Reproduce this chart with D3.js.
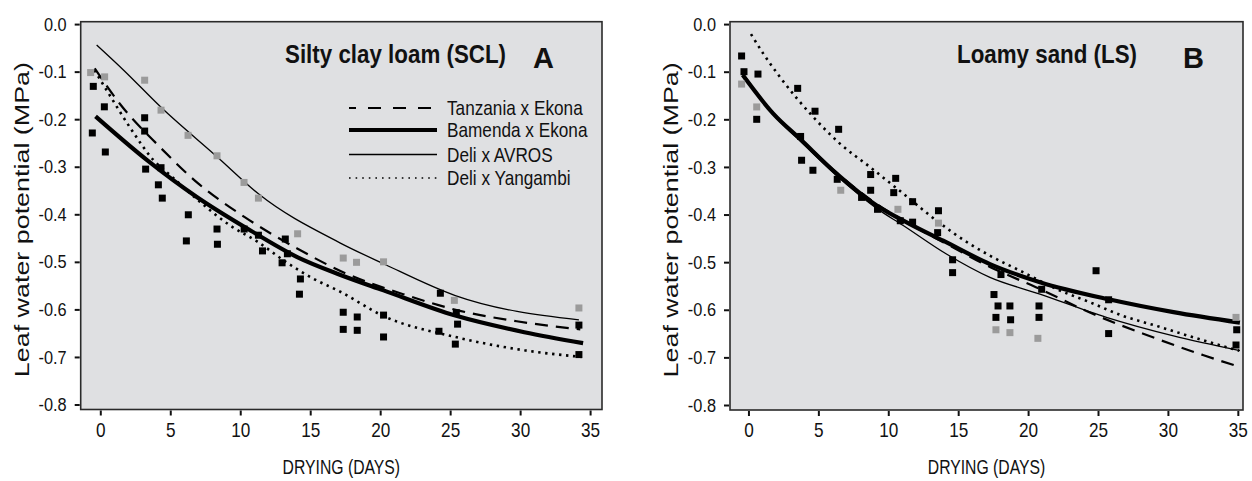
<!DOCTYPE html>
<html>
<head>
<meta charset="utf-8">
<script src="https://cdn.jsdelivr.net/npm/d3@7"></script>
<style>
  html, body { margin: 0; padding: 0; background: #fff; }
  svg { display: block; }
  text { font-family: "Liberation Sans", Arial, Helvetica, sans-serif; fill: #111; }
</style>
</head>
<body>
<svg id="chart" width="1252" height="481"></svg>
<script>
// ---- tick values ----
const xTickValues = [0, 5, 10, 15, 20, 25, 30, 35];
const yTickValues = [0, -0.1, -0.2, -0.3, -0.4, -0.5, -0.6, -0.7, -0.8];

// ---- Silty clay loam (SCL): observations [day, MPa] ----
const sclGray = [
  [-0.69, -0.102], [0.31, -0.111], [3.17, -0.118], [4.34, -0.181], [6.27, -0.234],
  [8.34, -0.277], [10.27, -0.333], [11.3, -0.366], [14.1, -0.441], [17.36, -0.492],
  [18.31, -0.501], [20.24, -0.5], [25.3, -0.581], [34.2, -0.597]
];
const sclDark = [
  [-0.5, -0.131], [0.29, -0.174], [-0.57, -0.229], [0.36, -0.269], [3.17, -0.197],
  [3.17, -0.225], [3.24, -0.305], [4.34, -0.302], [4.15, -0.338], [4.43, -0.366],
  [6.29, -0.401], [6.15, -0.456], [8.34, -0.431], [8.37, -0.463], [10.28, -0.431],
  [11.3, -0.444], [11.59, -0.477], [13.22, -0.452], [13.37, -0.483], [12.99, -0.502],
  [14.3, -0.536], [14.23, -0.568], [17.36, -0.606], [17.36, -0.642], [18.36, -0.616],
  [18.36, -0.644], [20.24, -0.612], [20.24, -0.658], [24.3, -0.566], [24.2, -0.646],
  [25.44, -0.607], [25.53, -0.631], [25.37, -0.673], [34.2, -0.633], [34.2, -0.695]
];

// ---- Silty clay loam (SCL): fitted curves [day, MPa] ----
const sclTanzania = [
  [-0.4, -0.093], [1.38, -0.167], [4.24, -0.258], [6.99, -0.335], [10.32, -0.406],
  [14.07, -0.472], [17.6, -0.525], [21.65, -0.568], [25.7, -0.603], [29.76, -0.625],
  [34.3, -0.642]
];
const sclBamenda = [
  [-0.34, -0.194], [3.34, -0.286], [6.92, -0.364], [10.5, -0.43], [14.07, -0.49],
  [17.12, -0.527], [20.24, -0.56], [25.37, -0.613], [30.3, -0.648], [34.5, -0.671]
];
const sclAvros = [
  [-0.26, -0.044], [1.67, -0.097], [4.34, -0.175], [8.34, -0.279], [11.3, -0.357],
  [17.12, -0.46], [20.24, -0.504], [25.37, -0.571], [34.2, -0.622]
];
const sclYangambi = [
  [-0.41, -0.097], [0.66, -0.149], [2.09, -0.216], [3.8, -0.286], [5.12, -0.321],
  [7.13, -0.374], [9.25, -0.423], [11.2, -0.457], [13.35, -0.502], [15.2, -0.535],
  [17.1, -0.562], [20.24, -0.614], [25.37, -0.658], [30.3, -0.686], [34.4, -0.7]
];

// ---- Loamy sand (LS): observations [day, MPa] ----
const lsGray = [
  [-0.49, -0.126], [0.59, -0.174], [6.6, -0.349], [10.69, -0.389], [13.59, -0.418],
  [17.7, -0.642], [18.7, -0.648], [20.7, -0.66], [34.87, -0.616]
];
const lsDark = [
  [-0.49, -0.067], [-0.32, -0.1], [0.68, -0.105], [0.59, -0.2], [3.52, -0.135],
  [4.76, -0.183], [6.45, -0.221], [3.73, -0.236], [3.8, -0.286], [4.61, -0.307],
  [6.35, -0.326], [8.74, -0.316], [8.74, -0.349], [10.53, -0.324], [10.39, -0.354],
  [8.09, -0.364], [9.23, -0.389], [11.74, -0.373], [10.86, -0.413], [11.74, -0.416],
  [13.59, -0.392], [13.53, -0.438], [14.6, -0.495], [14.6, -0.522], [18.06, -0.526],
  [17.56, -0.568], [17.85, -0.592], [18.7, -0.592], [17.7, -0.616], [18.75, -0.621],
  [20.97, -0.557], [20.78, -0.592], [20.78, -0.616], [24.86, -0.518], [25.76, -0.579],
  [25.76, -0.65], [34.92, -0.642], [34.87, -0.674]
];

// ---- Loamy sand (LS): fitted curves [day, MPa] ----
const lsTanzania = [
  [-0.4, -0.105], [1.77, -0.187], [3.68, -0.24], [6.3, -0.312], [9.17, -0.378],
  [11.55, -0.42], [13.93, -0.458], [17.27, -0.51], [20.6, -0.553], [24.66, -0.609],
  [28.48, -0.653], [32.5, -0.695], [34.9, -0.718]
];
const lsBamenda = [
  [-0.41, -0.107], [1.77, -0.188], [3.68, -0.241], [6.3, -0.314], [9.17, -0.381],
  [11.55, -0.42], [13.93, -0.455], [17.27, -0.504], [20.85, -0.542], [25.76, -0.578],
  [30.4, -0.605], [35.15, -0.627]
];
const lsAvros = [
  [-0.4, -0.105], [1.77, -0.19], [3.68, -0.245], [6.3, -0.318], [9.17, -0.387],
  [11.07, -0.423], [14.16, -0.483], [17.27, -0.532], [20.85, -0.567], [25.6, -0.616],
  [30.4, -0.655], [35.15, -0.686]
];
const lsYangambi = [
  [0.18, -0.021], [1.06, -0.062], [2.25, -0.111], [4.63, -0.195], [6.54, -0.251],
  [8.68, -0.3], [11.07, -0.356], [13.46, -0.413], [15.84, -0.462], [17.25, -0.486],
  [19.63, -0.521], [22.0, -0.556], [24.4, -0.584], [26.8, -0.613], [29.2, -0.634],
  [31.5, -0.655], [33.9, -0.676], [35.1, -0.686]
];

// ---- legend ----
const legendLabels = ["Tanzania x Ekona", "Bamenda x Ekona", "Deli x AVROS", "Deli x Yangambi"];

// ---- line styles per cross ----
const styles = [
  { width: 2.2, dash: "13,8" },            // Tanzania x Ekona
  { width: 4.2, dash: null },              // Bamenda x Ekona
  { width: 1.3, dash: null },              // Deli x AVROS
  { width: 2.6, dash: "2.4,4.6" }          // Deli x Yangambi
];

const svg = d3.select("#chart");
const BG = "#dfe0e2";
const GRAY = "#9b9b9b";
const SX = 0.86;   // condensed text: horizontal squeeze of the glyphs

// horizontal text in a condensed face
function label(parent, x, y, str, size, anchor, weight, sx) {
  return parent.append("text")
    .attr("transform", `translate(${x},${y}) scale(${sx || SX},1)`)
    .attr("font-size", size)
    .attr("text-anchor", anchor || "start")
    .attr("font-weight", weight || "normal")
    .text(str);
}

// condense tick labels produced by a d3 axis
function condenseTicks(sel, size) {
  sel.selectAll(".tick text").each(function () {
    const t = d3.select(this);
    const tx = +t.attr("x") || 0, ty = +t.attr("y") || 0;
    t.attr("x", null).attr("y", null)
      .attr("transform", `translate(${tx},${ty}) scale(${SX},1)`)
      .attr("font-size", size).attr("fill", "#111");
  });
}

function drawPanel(cfg) {
  const x = d3.scaleLinear().domain(cfg.xDomain).range([cfg.left, cfg.right]);
  const y = d3.scaleLinear().domain([0.005, -0.8105]).range([cfg.top, cfg.bottom]);
  const g = svg.append("g");

  g.append("rect")
    .attr("x", cfg.left).attr("y", cfg.top)
    .attr("width", cfg.right - cfg.left).attr("height", cfg.bottom - cfg.top)
    .attr("fill", BG).attr("stroke", "#2a2a2a").attr("stroke-width", 1.6);

  // axes
  const xAxis = d3.axisBottom(x).tickValues(xTickValues).tickSizeInner(5).tickSizeOuter(0).tickPadding(7)
    .tickFormat(d3.format("d"));
  const gx = g.append("g").attr("transform", `translate(0,${cfg.bottom + 1})`).call(xAxis);
  gx.select(".domain").remove();
  gx.selectAll("line").attr("stroke", "#111").attr("stroke-width", 2);
  condenseTicks(gx, 20);

  const yAxis = d3.axisLeft(y).tickValues(yTickValues).tickSizeInner(5).tickSizeOuter(0).tickPadding(8)
    .tickFormat(d => d3.format(".1f")(d).replace("\u2212", "-"));
  const gy = g.append("g").attr("transform", `translate(${cfg.left - 1},0)`).call(yAxis);
  gy.select(".domain").remove();
  gy.selectAll("line").attr("stroke", "#111").attr("stroke-width", 2);
  condenseTicks(gy, 19);

  // axis titles (the vertical one is drawn elongated along its reading direction)
  g.append("text")
    .attr("transform", `translate(${cfg.left - 52},${(cfg.top + cfg.bottom) / 2 + 4}) rotate(-90) scale(1.28,1)`)
    .attr("text-anchor", "middle").attr("font-size", 21)
    .text("Leaf water potential (MPa)");
  label(g, (cfg.left + cfg.right) / 2, 474, "DRYING (DAYS)", 21, "middle", "normal", 0.75);

  // fitted curves
  const line = d3.line().x(d => x(d[0])).y(d => y(d[1])).curve(d3.curveMonotoneX);
  cfg.curves.forEach((c, i) => {
    const s = styles[i];
    g.append("path").datum(c)
      .attr("d", line)
      .attr("fill", "none").attr("stroke", "#000")
      .attr("stroke-width", s.width)
      .attr("stroke-dasharray", s.dash);
  });

  // observations
  const sz = 7;
  g.append("g").selectAll("rect").data(cfg.gray).join("rect")
    .attr("x", d => x(d[0]) - sz / 2).attr("y", d => y(d[1]) - sz / 2)
    .attr("width", sz).attr("height", sz).attr("fill", GRAY);
  g.append("g").selectAll("rect").data(cfg.dark).join("rect")
    .attr("x", d => x(d[0]) - sz / 2).attr("y", d => y(d[1]) - sz / 2)
    .attr("width", sz).attr("height", sz).attr("fill", "#000");

  // panel title and letter
  label(g, cfg.titleX, 63, cfg.title, 26, "start", "bold");
  g.append("text").attr("x", cfg.letterX).attr("y", 68)
    .attr("font-size", 29).attr("font-weight", "bold")
    .text(cfg.letter);

  return { x, y, g };
}

const pA = drawPanel({
  left: 80.7, right: 602, top: 21.7, bottom: 409.5,
  xDomain: [-1.4, 35.85],
  gray: sclGray, dark: sclDark,
  curves: [sclTanzania, sclBamenda, sclAvros, sclYangambi],
  title: "Silty clay loam (SCL)", titleX: 285,
  letter: "A", letterX: 533
});

drawPanel({
  left: 730, right: 1243, top: 21.7, bottom: 410,
  xDomain: [-1.32, 35.37],
  gray: lsGray, dark: lsDark,
  curves: [lsTanzania, lsBamenda, lsAvros, lsYangambi],
  title: "Loamy sand (LS)", titleX: 957,
  letter: "B", letterX: 1183
});

// legend (panel A)
const legend = pA.g.append("g");
const legendRows = [108, 130, 154.5, 178];
legendLabels.forEach((lab, i) => {
  const s = styles[i];
  const ly = legendRows[i];
  legend.append("line")
    .attr("x1", 349).attr("x2", 437).attr("y1", ly).attr("y2", ly)
    .attr("stroke", "#000").attr("stroke-width", i === 3 ? 1.6 : s.width)
    .attr("stroke-dasharray", i === 0 ? "13,12" : (i === 3 ? "1.6,5" : null))
    .attr("stroke-dashoffset", i === 0 ? 6 : 0);
  label(legend, 447, ly + 7, lab, 20, "start");
});
</script>
</body>
</html>
